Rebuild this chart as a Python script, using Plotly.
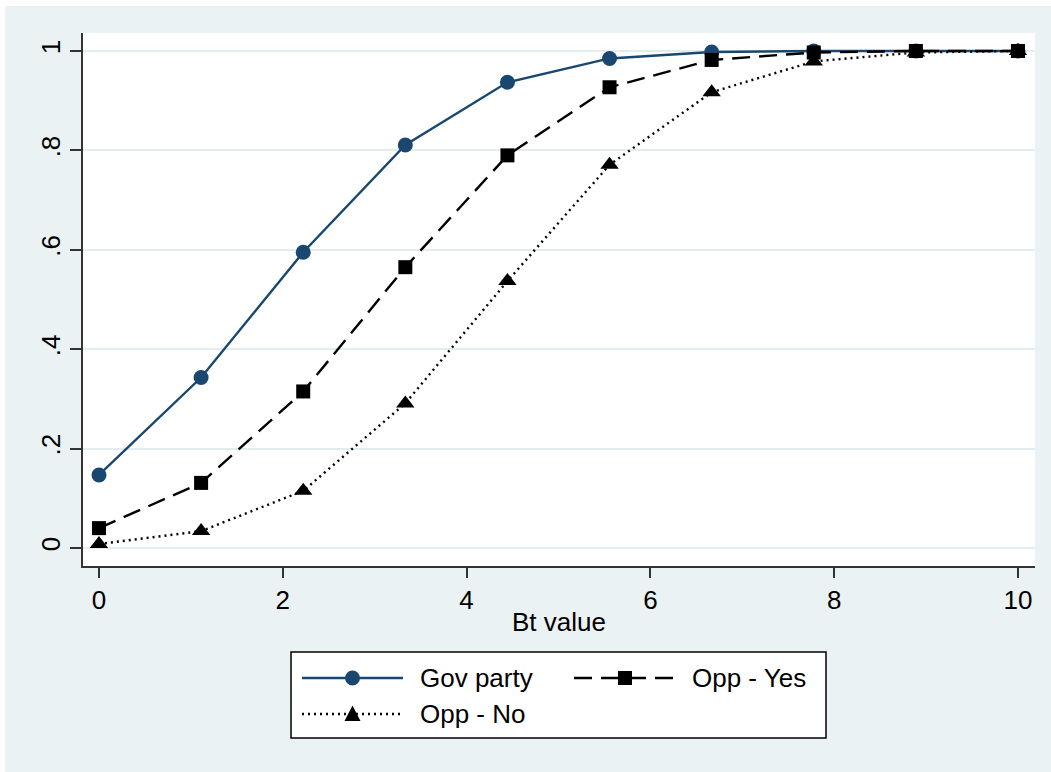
import plotly.graph_objects as go

# ---------------- data ----------------
bt_value = [0, 10/9, 20/9, 30/9, 40/9, 50/9, 60/9, 70/9, 80/9, 10]
gov_party = [0.147, 0.343, 0.595, 0.811, 0.937, 0.985, 0.998, 1.0, 1.0, 1.0]
opp_yes = [0.040, 0.131, 0.315, 0.565, 0.790, 0.927, 0.982, 0.997, 1.0, 1.0]
opp_no = [0.008, 0.034, 0.115, 0.291, 0.537, 0.771, 0.917, 0.979, 0.997, 1.0]

x_ticks = [0, 2, 4, 6, 8, 10]
y_ticks = [0, 0.2, 0.4, 0.6, 0.8, 1.0]
y_tick_text = ["0", ".2", ".4", ".6", ".8", "1"]

series_names = ["Gov party", "Opp - Yes", "Opp - No"]
x_title = "Bt value"

# ---------------- style ----------------
W, H = 1051, 772
ML, MR, MT, MB = 83, 16, 33, 206
PW, PH = W - ML - MR, H - MT - MB
BG = "#EAF2F3"
NAVY = "#1A476F"
FONT = "Liberation Sans, Arial, sans-serif"
FS = 26
LW = 2.4


def px(x):
    return (x - ML) / PW


def py(y):
    return (H - MB - y) / PH


fig = go.Figure()
fig.add_trace(go.Scatter(x=bt_value, y=gov_party, name=series_names[0], mode="lines+markers",
                         line=dict(color=NAVY, width=LW),
                         marker=dict(symbol="circle", size=15, color=NAVY)))
fig.add_trace(go.Scatter(x=bt_value, y=opp_yes, name=series_names[1], mode="lines+markers",
                         line=dict(color="black", width=LW, dash="18px,9px"),
                         marker=dict(symbol="square", size=14, color="black")))
fig.add_trace(go.Scatter(x=bt_value, y=opp_no, name=series_names[2], mode="lines+markers",
                         line=dict(color="black", width=LW, dash="2px,4px"),
                         marker=dict(symbol="triangle-up", size=16, color="black")))

shapes = []
annotations = []
# white strips on top and left of outer frame
shapes.append(dict(type="rect", xref="paper", yref="paper", x0=px(0), x1=px(W), y0=py(0), y1=py(6),
                   fillcolor="white", line=dict(width=0), layer="below"))
shapes.append(dict(type="rect", xref="paper", yref="paper", x0=px(0), x1=px(5), y0=py(0), y1=py(H),
                   fillcolor="white", line=dict(width=0), layer="below"))

# legend box
shapes.append(dict(type="rect", xref="paper", yref="paper", x0=px(291), x1=px(826), y0=py(652), y1=py(738),
                   fillcolor="white", line=dict(color="black", width=1.5)))

legend_items = [
    (302, 403, 678, 418, dict(color=NAVY, width=LW), "circle", NAVY),
    (574, 676, 678, 690, dict(color="black", width=LW, dash="18px,9px"), "square", "black"),
    (302, 403, 714, 418, dict(color="black", width=LW, dash="2px,4px"), "triangle", "black"),
]
for (lx0, lx1, ly, tx, lstyle, sym, col), name in zip(legend_items, series_names):
    shapes.append(dict(type="line", xref="paper", yref="paper", x0=px(lx0), x1=px(lx1),
                       y0=py(ly), y1=py(ly), line=lstyle))
    cx = (lx0 + lx1) / 2
    if sym == "circle":
        r = 7.5
        shapes.append(dict(type="circle", xref="paper", yref="paper", x0=px(cx - r), x1=px(cx + r),
                           y0=py(ly - r), y1=py(ly + r), fillcolor=col, line=dict(width=0)))
    elif sym == "square":
        r = 7
        shapes.append(dict(type="rect", xref="paper", yref="paper", x0=px(cx - r), x1=px(cx + r),
                           y0=py(ly - r), y1=py(ly + r), fillcolor=col, line=dict(width=0)))
    else:
        r = 8
        path = "M {},{} L {},{} L {},{} Z".format(px(cx - r), py(ly + 7), px(cx + r), py(ly + 7),
                                                 px(cx), py(ly - 8.5))
        shapes.append(dict(type="path", xref="paper", yref="paper", path=path,
                           fillcolor=col, line=dict(width=0)))
    annotations.append(dict(text=name, xref="paper", yref="paper", x=px(tx), y=py(ly),
                            xanchor="left", yanchor="middle", showarrow=False,
                            font=dict(family=FONT, size=FS, color="black")))

annotations.append(dict(text=x_title, xref="paper", yref="paper", x=px(559), y=py(622),
                        xanchor="center", yanchor="middle", showarrow=False,
                        font=dict(family=FONT, size=FS, color="black")))

fig.update_layout(
    width=W, height=H,
    margin=dict(l=ML, r=MR, t=MT, b=MB, pad=0),
    paper_bgcolor=BG, plot_bgcolor="white",
    showlegend=False,
    font=dict(family=FONT, size=FS, color="black"),
    shapes=shapes, annotations=annotations,
    xaxis=dict(range=[-0.174, 10.185], tickvals=x_ticks, showgrid=False, zeroline=False,
               showline=True, linecolor="#333333", linewidth=1.5,
               ticks="outside", ticklen=10, tickwidth=1.5, tickcolor="#333333",
               tickfont=dict(family=FONT, size=FS, color="black")),
    yaxis=dict(range=[-0.0362, 1.0362], tickvals=y_ticks, ticktext=y_tick_text, tickangle=-90,
               showgrid=True, gridcolor="#E3EDF0", gridwidth=2, zeroline=False,
               showline=True, linecolor="#333333", linewidth=1.5,
               ticks="outside", ticklen=11, tickwidth=1.5, tickcolor="#333333",
               tickfont=dict(family=FONT, size=FS, color="black")),
)

fig.write_html("out.html", config={"displayModeBar": False},
               post_script="document.body.style.margin='0';document.body.style.overflow='hidden';")
